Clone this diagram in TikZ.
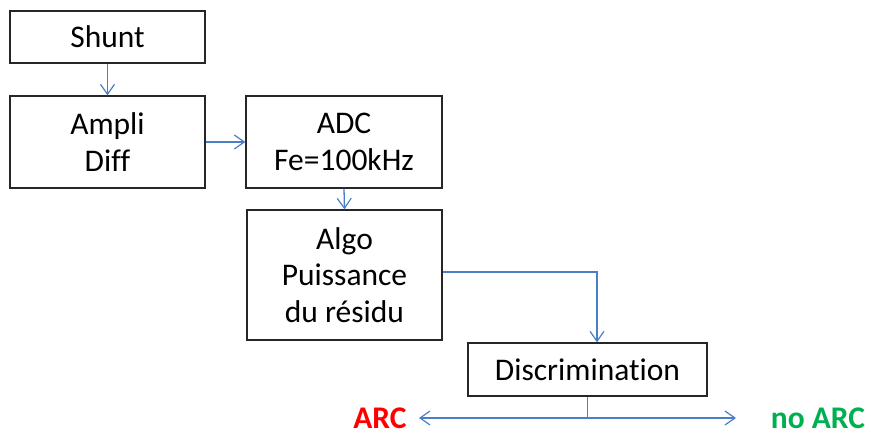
\documentclass[tikz,border=0pt]{standalone}
\usepackage{fontspec}
\setmainfont[Ligatures=NoCommon]{Carlito}
\usetikzlibrary{arrows.meta}
\definecolor{conn}{HTML}{4A7EC7}
\definecolor{arcred}{HTML}{FF0000}
\definecolor{arcgreen}{HTML}{00B050}
\tikzset{
  blockbox/.style={draw=black!85, line width=1.3pt, align=center, inner sep=0pt,
    font=\fontsize{31.5}{36.5}\selectfont},
  conn/.style={draw=conn, line width=1.3pt, -{Straight Barb[length=10pt,width=14pt,line width=1.2pt]}},
  connline/.style={draw=conn, line width=1.3pt},
  outlabel/.style={font=\fontsize{31.5}{34}\selectfont\bfseries, inner sep=0pt}
}
\begin{document}
\begin{tikzpicture}[x=1pt,y=-1pt]
\useasboundingbox (0,0) rectangle (871,435);
\node[blockbox, minimum width=195pt, minimum height=52pt] (shunt) at (107.5,37) {Shunt};
\node[blockbox, minimum width=195pt, minimum height=92pt] (ampli) at (107.5,142) {Ampli\\Diff};
\node[blockbox, minimum width=196pt, minimum height=92pt] (adc) at (344,142) {ADC\\Fe=100kHz};
\node[blockbox, minimum width=195pt, minimum height=130pt] (algo) at (344.5,275) {Algo\\Puissance\\du résidu};
\node[blockbox, minimum width=239pt, minimum height=53pt] (disc) at (587.5,369.5) {Discrimination};
\node[outlabel, text=arcred] (arc) at (380,418) {ARC};
\node[outlabel, text=arcgreen] (noarc) at (818,418) {no ARC};
\coordinate (split) at (587.5,418);
\coordinate (leftend) at (419,418);
\coordinate (rightend) at (736,418);
\draw[conn] (shunt.south) -- (ampli.north);
\draw[conn] (ampli.east) -- (adc.west);
\draw[conn] (adc.south) -- (algo.north);
\draw[conn] ([yshift=3pt]algo.east) -| ([xshift=9.5pt]disc.north);
\draw[connline] (disc.south) -- (split);
\draw[conn] (split) -- (leftend);
\draw[conn] (split) -- (rightend);
\end{tikzpicture}
\end{document}
